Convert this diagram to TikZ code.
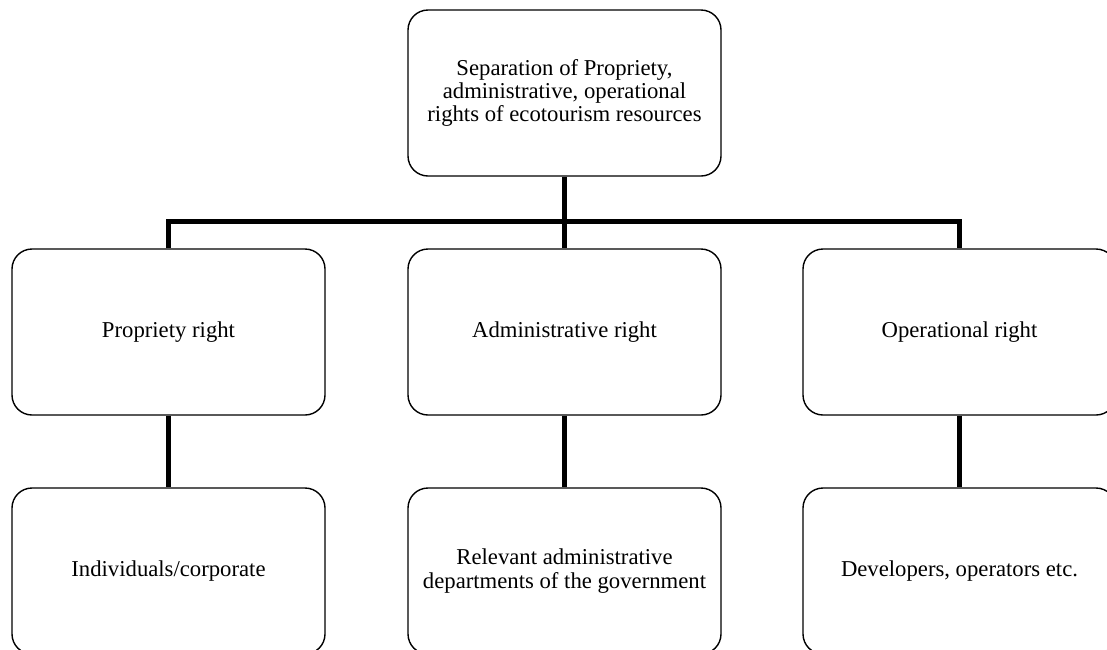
\documentclass[tikz,border=0pt]{standalone}
\usepackage{fontspec}
\setmainfont{Liberation Serif}
\tikzset{rightbox/.style={rectangle,draw,line width=1.4pt,rounded corners=20pt,fill=white,
    minimum width=313pt,minimum height=166pt,align=center,inner sep=4pt,
    font=\fontsize{22.7}{23.4}\selectfont},
  link/.style={line width=5pt}}

\begin{document}
\begin{tikzpicture}[x=1pt,y=-1pt]
  \useasboundingbox (0,0) rectangle (1107,649);
  \coordinate (bus) at (564.5,221);
  % connectors first, boxes on top
  \path (564.5,93) node[rightbox] (top) {Separation of Propriety,\\administrative, operational\\rights of ecotourism resources};
  \path (168.5,332) node[rightbox] (prop) {Propriety right};
  \path (564.5,332) node[rightbox] (admin) {Administrative right};
  \path (959.5,332) node[rightbox] (oper) {Operational right};
  \path (168.5,571) node[rightbox] (indiv) {Individuals/corporate};
  \path (564.5,571) node[rightbox] (dept) {Relevant administrative\\departments of the government};
  \path (959.5,571) node[rightbox] (devel) {Developers, operators etc.};
  \draw[link] (top.south) -- (admin.north);
  \draw[link] (prop.north) |- (bus) -| (oper.north);
  \foreach \a/\b in {prop/indiv,admin/dept,oper/devel}{
    \draw[link] (\a.south) -- (\b.north);
  }
\end{tikzpicture}
\end{document}
